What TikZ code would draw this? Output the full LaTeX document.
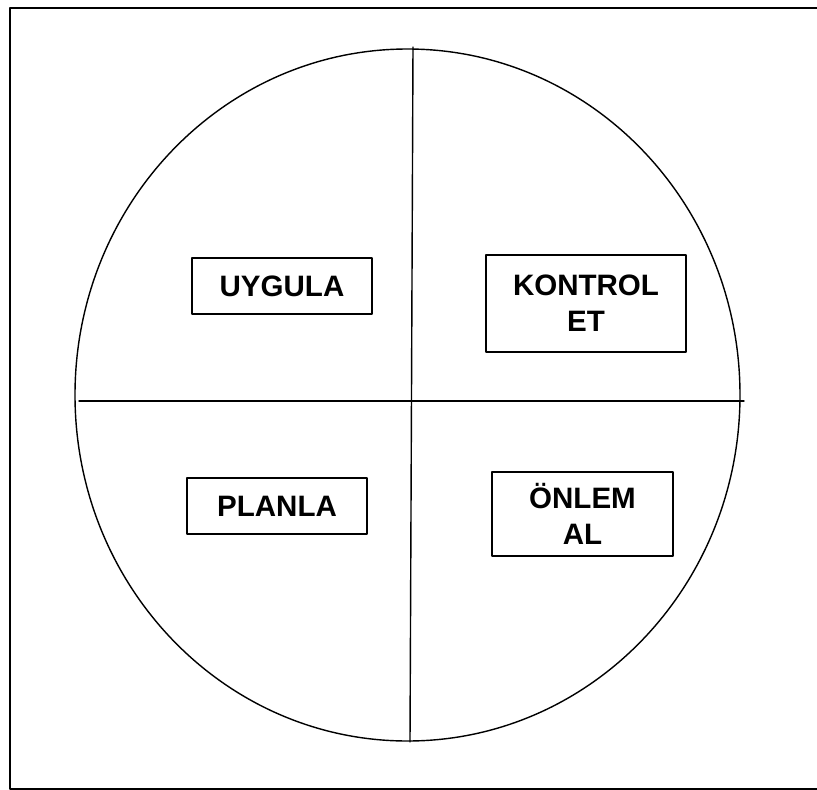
\documentclass[tikz,border=0pt]{standalone}
\usepackage{fontspec}
\setmainfont{Liberation Sans}
\begin{document}
\begin{tikzpicture}[
  x=0.025cm,
  y=-0.025cm,
  line cap=round,
  line join=round,
  kutu/.style={
    draw,
    line width=1pt,
    inner sep=0pt,
    align=center,
    font=\fontsize{21}{25.5}\selectfont\bfseries
  }
]
  \def\Rx{332.5}
  \def\Ry{346}
  \def\px{0.025cm}

  \useasboundingbox (0,0) rectangle (817,790);

  \coordinate (O) at (407.5,395);

  % Çerçeve
  \draw[line width=1.4pt] (817,8) -- (10,8) -- (10,789) -- (817,789);

  % Daire
  \draw[line width=1pt] (O) ellipse[x radius=\Rx,y radius=\Ry];

  % Eksenler
  \coordinate (Ust) at (413,47);
  \coordinate (Alt) at (410,742);
  \coordinate (Sol) at (79,401);
  \coordinate (Sag) at (744,401);
  \draw[line width=1pt] (Ust) -- (Alt);
  \draw[line width=1pt] (Sol) -- (Sag);

  % Kutular
  \node[kutu,minimum width=180*\px,minimum height=56*\px]
    (uygula) at (282,286) {UYGULA};
  \node[kutu,minimum width=200*\px,minimum height=97*\px]
    (kontrol) at (586,303.5) {KONTROL\\ET};
  \node[kutu,minimum width=180*\px,minimum height=56*\px]
    (planla) at (277,506) {PLANLA};
  \node[kutu,minimum width=181*\px,minimum height=84*\px]
    (onlem) at (582.5,514) {ÖNLEM\\AL};
\end{tikzpicture}
\end{document}
